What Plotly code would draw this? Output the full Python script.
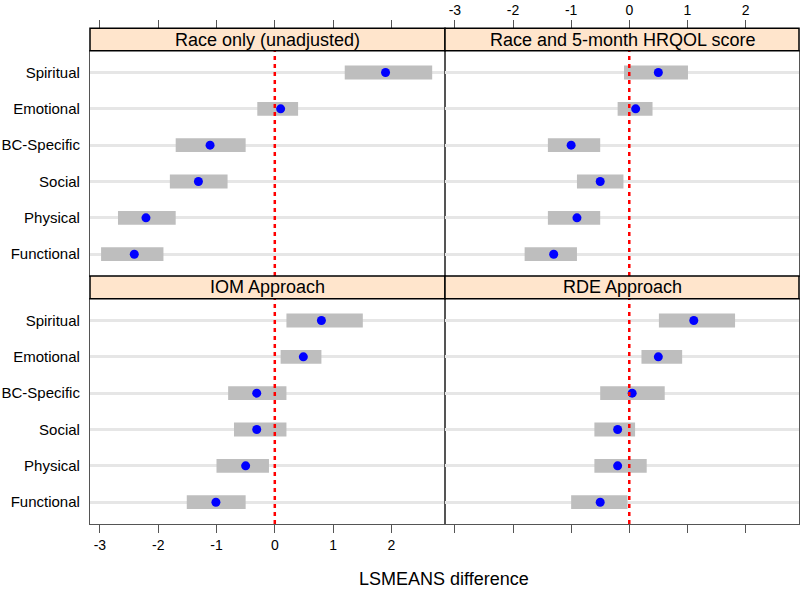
import plotly.graph_objects as go

categories = ["Functional", "Physical", "Social", "BC-Specific", "Emotional", "Spiritual"]
panel_titles = ["Race only (unadjusted)", "Race and 5-month HRQOL score", "IOM Approach", "RDE Approach"]
tick_values = [-3, -2, -1, 0, 1, 2]
tick_labels = ["-3", "-2", "-1", "0", "1", "2"]
axis_title = "LSMEANS difference"

# order follows categories (Functional ... Spiritual)
race_est = [-2.41, -2.21, -1.31, -1.11, 0.10, 1.90]
race_lo = [-2.98, -2.69, -1.80, -1.70, -0.30, 1.20]
race_hi = [-1.91, -1.70, -0.81, -0.50, 0.40, 2.70]

hrqol_est = [-1.30, -0.90, -0.50, -1.00, 0.11, 0.50]
hrqol_lo = [-1.80, -1.40, -0.90, -1.40, -0.20, -0.09]
hrqol_hi = [-0.90, -0.50, -0.10, -0.50, 0.40, 1.01]

iom_est = [-1.01, -0.50, -0.31, -0.31, 0.49, 0.80]
iom_lo = [-1.51, -1.00, -0.70, -0.80, 0.10, 0.20]
iom_hi = [-0.50, -0.10, 0.20, 0.20, 0.80, 1.51]

rde_est = [-0.50, -0.20, -0.20, 0.05, 0.50, 1.11]
rde_lo = [-1.00, -0.60, -0.60, -0.50, 0.21, 0.51]
rde_hi = [-0.03, 0.30, 0.10, 0.61, 0.91, 1.82]

panels = [
    (race_est, race_lo, race_hi),
    (hrqol_est, hrqol_lo, hrqol_hi),
    (iom_est, iom_lo, iom_hi),
    (rde_est, rde_lo, rde_hi),
]

W, H = 800, 589
FONT = "Liberation Sans, Arial, sans-serif"
XR = [-3.17, 2.92]

def px_x(v):
    return v / W

def px_y(v):
    return 1 - v / H

xdom = [[px_x(90), px_x(445)], [px_x(445), px_x(799)]]
ydom_top = [px_y(276), px_y(50.7)]
ydom_bot = [px_y(524), px_y(298.7)]
strip_top = [px_y(50.7), px_y(28.3)]
strip_bot = [px_y(298.7), px_y(276)]

fig = go.Figure()
for i, (est, lo, hi) in enumerate(panels):
    xa = "x" if i == 0 else f"x{i+1}"
    ya = "y" if i == 0 else f"y{i+1}"
    fig.add_trace(go.Bar(
        y=categories, x=[h - l for l, h in zip(lo, hi)], base=lo,
        orientation="h", width=0.38, marker=dict(color="#BEBEBE", line=dict(width=0)),
        xaxis=xa, yaxis=ya, showlegend=False, hoverinfo="skip"))
    fig.add_trace(go.Scatter(
        y=categories, x=est, mode="markers",
        marker=dict(color="#0000FF", size=9),
        xaxis=xa, yaxis=ya, showlegend=False))
    fig.add_shape(type="line", xref=xa, yref=f"{ya} domain", x0=0, x1=0, y0=0, y1=1,
                  line=dict(color="#FF0000", width=2.5, dash="4px,4px"))

# invisible traces for top tick axes
fig.add_trace(go.Scatter(x=[0], y=[categories[0]], xaxis="x5", yaxis="y", mode="markers",
                         marker=dict(opacity=0), showlegend=False, hoverinfo="skip"))
fig.add_trace(go.Scatter(x=[0], y=[categories[0]], xaxis="x6", yaxis="y2", mode="markers",
                         marker=dict(opacity=0), showlegend=False, hoverinfo="skip"))

line_col = "#555555"
common_x = dict(range=XR, showgrid=False, zeroline=False, showline=True, mirror=True,
                linecolor=line_col, linewidth=1.2, tickvals=tick_values, ticktext=tick_labels,
                tickfont=dict(family=FONT, size=14, color="#000000"), automargin=False,
                tickcolor=line_col, ticklen=8, tickwidth=1)
common_y = dict(type="category", categoryorder="array", categoryarray=categories,
                range=[-0.6, 5.6], showgrid=True, gridcolor="#E6E6E6", gridwidth=2.5,
                zeroline=False, showline=True, mirror=True, linecolor=line_col, linewidth=1.2,
                ticks="", automargin=False, ticklabelstandoff=6,
                tickfont=dict(family=FONT, size=15, color="#000000"))

layout = dict(
    width=W, height=H, margin=dict(l=0, r=0, t=0, b=0, autoexpand=False),
    plot_bgcolor="white", paper_bgcolor="white", barmode="overlay",
    font=dict(family=FONT, color="#000000"),
    xaxis=dict(common_x, domain=xdom[0], anchor="y", ticks="", showticklabels=False),
    xaxis2=dict(common_x, domain=xdom[1], anchor="y2", ticks="", showticklabels=False),
    xaxis3=dict(common_x, domain=xdom[0], anchor="y3", ticks="outside", showticklabels=True),
    xaxis4=dict(common_x, domain=xdom[1], anchor="y4", ticks="outside", showticklabels=False),
    xaxis5=dict(common_x, domain=xdom[0], overlaying="x", anchor="free", position=strip_top[1],
                side="top", ticks="outside", showticklabels=False, showline=False, mirror=False),
    xaxis6=dict(common_x, domain=xdom[1], overlaying="x2", anchor="free", position=strip_top[1],
                side="top", ticks="outside", showticklabels=True, showline=False, mirror=False),
    yaxis=dict(common_y, domain=ydom_top, anchor="x", showticklabels=True),
    yaxis2=dict(common_y, domain=ydom_top, anchor="x2", showticklabels=False),
    yaxis3=dict(common_y, domain=ydom_bot, anchor="x3", showticklabels=True),
    yaxis4=dict(common_y, domain=ydom_bot, anchor="x4", showticklabels=False),
)
fig.update_layout(**layout)

strips = [(xdom[0], strip_top), (xdom[1], strip_top), (xdom[0], strip_bot), (xdom[1], strip_bot)]
for title, (xd, yd) in zip(panel_titles, strips):
    fig.add_shape(type="rect", xref="paper", yref="paper", x0=xd[0], x1=xd[1], y0=yd[0], y1=yd[1],
                  fillcolor="#FFE5CC", line=dict(color="#000000", width=1.5), layer="above")
    fig.add_annotation(x=(xd[0] + xd[1]) / 2, y=(yd[0] + yd[1]) / 2, xref="paper", yref="paper",
                       text=title, showarrow=False, xanchor="center", yanchor="middle",
                       font=dict(family=FONT, size=18, color="#000000"))

fig.add_annotation(x=px_x(444), y=px_y(579), xref="paper", yref="paper", text=axis_title,
                   showarrow=False, xanchor="center", yanchor="middle",
                   font=dict(family=FONT, size=18, color="#000000"))

fig.write_html("out.html", config={"displayModeBar": False},
               post_script="document.body.style.margin='0px';")
